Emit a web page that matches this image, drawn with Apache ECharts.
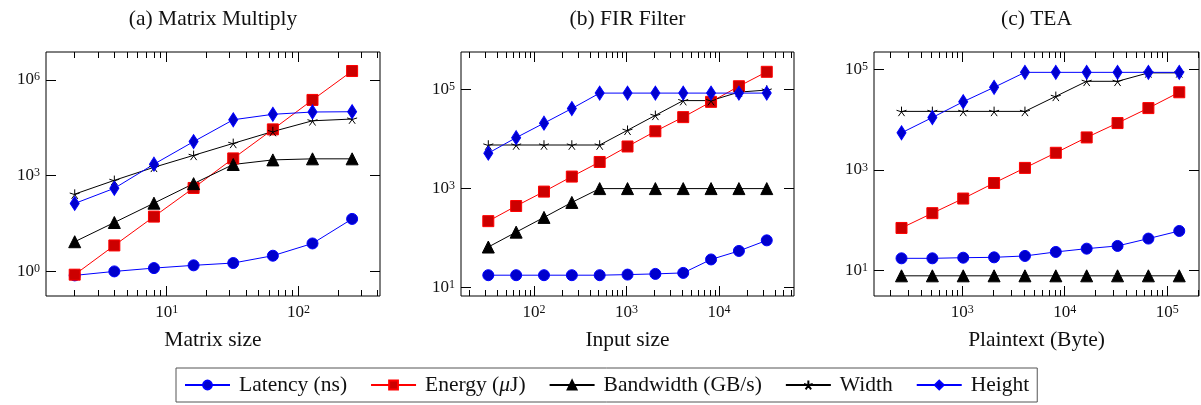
<!DOCTYPE html>
<html><head><meta charset="utf-8">
<script src="https://cdn.jsdelivr.net/npm/echarts@6/dist/echarts.min.js"></script>
<style>html,body{margin:0;padding:0;background:#fff}#c{width:1201px;height:405px}</style>
</head><body><div id="c"></div>
<script>
// ---------- data ----------
const seriesNames = ['Latency (ns)', 'Energy (μJ)', 'Bandwidth (GB/s)', 'Width', 'Height'];
const panelTitles = ['(a) Matrix Multiply', '(b) FIR Filter', '(c) TEA'];
const xAxisNames = ['Matrix size', 'Input size', 'Plaintext (Byte)'];

const mmSize = [2, 4, 8, 16, 32, 64, 128, 256];
const mmLatency = [0.75, 1.0, 1.27, 1.55, 1.83, 3.1, 7.5, 44];
const mmEnergy = [0.79, 6.5, 52, 410, 3450, 28000, 234000, 1880000];
const mmBandwidth = [8.5, 34, 137, 560, 2230, 3100, 3350, 3350];
const mmWidth = [263, 710, 1820, 4300, 10200, 24000, 52000, 59000];
const mmHeight = [134, 400, 2280, 11600, 56000, 83000, 98000, 100000];

const firSize = [32, 64, 128, 256, 512, 1024, 2048, 4096, 8192, 16384, 32768];
const firLatency = [17.8, 17.8, 17.8, 17.8, 17.8, 18.3, 18.9, 19.8, 37, 55, 90];
const firEnergy = [220, 445, 870, 1750, 3450, 7100, 14400, 27800, 56600, 117000, 229000];
const firBandwidth = [66, 132, 262, 526, 1000, 1000, 1000, 1000, 1000, 1000, 1000];
const firWidth = [7600, 7600, 7600, 7600, 7600, 15100, 30200, 60000, 60000, 89000, 98000];
const firHeight = [5200, 10700, 21000, 41500, 85000, 85000, 85000, 85000, 85000, 85000, 85000];

const teaSize = [256, 512, 1024, 2048, 4096, 8192, 16384, 32768, 65536, 131072];
const teaLatency = [17.4, 17.4, 17.9, 18.2, 19.4, 23.3, 27.1, 30.7, 43, 61];
const teaEnergy = [70, 138, 270, 550, 1100, 2200, 4450, 8600, 17100, 35300];
const teaBandwidth = [7.8, 7.8, 7.8, 7.8, 7.8, 7.8, 7.8, 7.8, 7.8, 7.8];
const teaWidth = [14700, 14700, 14700, 14700, 14700, 29300, 58400, 58400, 86000, 86000];
const teaHeight = [5500, 11100, 22900, 44300, 88000, 88000, 88000, 88000, 88000, 88000];

// tick labels (powers of ten, as exponents)
const xTickExps = [[1, 2], [2, 3, 4], [3, 4, 5]];
const yTickExps = [[0, 3, 6], [1, 3, 5], [1, 3, 5]];

// ---------- layout / style ----------
const panels = [
  { xs: mmSize, ys: [mmLatency, mmEnergy, mmBandwidth, mmWidth, mmHeight],
    grid: { left: 46, top: 52, width: 334, height: 244 }, xr: [0.083, 2.62], yr: [-0.77, 6.87] },
  { xs: firSize, ys: [firLatency, firEnergy, firBandwidth, firWidth, firHeight],
    grid: { left: 461, top: 52, width: 333, height: 244 }, xr: [1.21, 4.81], yr: [0.83, 5.76] },
  { xs: teaSize, ys: [teaLatency, teaEnergy, teaBandwidth, teaWidth, teaHeight],
    grid: { left: 874, top: 52, width: 325, height: 244 }, xr: [2.14, 5.31], yr: [0.49, 5.35] }
];

const FONT = 'Liberation Serif';
const BIG = 21.5;
const starPath = 'path://M100 100L100 0M100 100L195 69M100 100L159 181M100 100L41 181M100 100L5 69';
const styles = [
  { symbol: 'circle', symbolSize: 11, fill: '#0000cc', stroke: '#0000ff', line: '#0000ff' },
  { symbol: 'rect', symbolSize: 11, fill: '#cc0000', stroke: '#ff0000', line: '#ff0000' },
  { symbol: 'triangle', symbolSize: 12, fill: '#000000', stroke: '#000000', line: '#000000' },
  { symbol: starPath, symbolSize: 10, fill: 'rgba(0,0,0,0)', stroke: '#000000', line: '#000000' },
  { symbol: 'diamond', symbolSize: [9, 14], fill: '#0000cc', stroke: '#0000ff', line: '#0000ff' }
];

function minorTicks(r) {
  const out = [];
  for (let k = Math.floor(r[0]); k <= Math.ceil(r[1]); k++) {
    for (let m = 2; m <= 9; m++) {
      const e = k + Math.log10(m);
      if (e > r[0] && e < r[1]) out.push(e);
    }
  }
  return out;
}

const powLabel = v => '{b|10}{s|' + Math.round(v) + '}';
const richPow = {
  b: { fontFamily: FONT, fontSize: 17, color: '#111', lineHeight: 17, verticalAlign: 'bottom' },
  s: { fontFamily: FONT, fontSize: 12, color: '#111', lineHeight: 12, padding: [0, 0, 7.5, 0], verticalAlign: 'top' }
};
const tickLine = { color: '#000', width: 1 };

const grids = [], xAxes = [], yAxes = [], series = [], graphics = [];
panels.forEach((p, pi) => {
  grids.push(Object.assign({ show: true, borderColor: '#000', borderWidth: 1, containLabel: false, outerBoundsMode: 'none' }, p.grid));
  const minor = minorTicks(p.xr);
  const base = { type: 'value', gridIndex: pi, min: p.xr[0], max: p.xr[1], splitLine: { show: false }, axisLine: { show: false, onZero: false } };
  // bottom major
  xAxes.push(Object.assign({}, base, {
    position: 'bottom',
    name: xAxisNames[pi], nameLocation: 'middle', nameGap: 33,
    nameTextStyle: { fontFamily: FONT, fontSize: BIG, color: '#111' },
    axisTick: { show: true, inside: true, length: 10, customValues: xTickExps[pi], lineStyle: tickLine },
    axisLabel: { show: true, margin: 8, customValues: xTickExps[pi], formatter: powLabel, rich: richPow }
  }));
  const mainX = xAxes.length - 1;
  // bottom minor
  xAxes.push(Object.assign({}, base, {
    position: 'bottom',
    axisTick: { show: true, inside: true, length: 6, customValues: minor, lineStyle: tickLine },
    axisLabel: { show: false }
  }));
  // top major
  xAxes.push(Object.assign({}, base, {
    position: 'top',
    axisTick: { show: true, inside: true, length: 10, customValues: xTickExps[pi], lineStyle: tickLine },
    axisLabel: { show: false }
  }));
  // top minor
  xAxes.push(Object.assign({}, base, {
    position: 'top',
    axisTick: { show: true, inside: true, length: 6, customValues: minor, lineStyle: tickLine },
    axisLabel: { show: false }
  }));
  const ybase = { type: 'value', gridIndex: pi, min: p.yr[0], max: p.yr[1], splitLine: { show: false }, axisLine: { show: false, onZero: false } };
  yAxes.push(Object.assign({}, ybase, {
    position: 'left',
    axisTick: { show: true, inside: true, length: 10, customValues: yTickExps[pi], lineStyle: tickLine },
    axisLabel: { show: true, margin: 6, customValues: yTickExps[pi], formatter: powLabel, rich: richPow }
  }));
  const mainY = yAxes.length - 1;
  yAxes.push(Object.assign({}, ybase, {
    position: 'right',
    axisTick: { show: true, inside: true, length: 10, customValues: yTickExps[pi], lineStyle: tickLine },
    axisLabel: { show: false }
  }));

  p.ys.forEach((vals, si) => {
    const st = styles[si];
    series.push({
      type: 'line', name: seriesNames[si],
      xAxisIndex: mainX, yAxisIndex: mainY,
      data: p.xs.map((x, i) => [Math.log10(x), Math.log10(vals[i])]),
      symbol: st.symbol, symbolSize: st.symbolSize, symbolKeepAspect: true,
      showAllSymbol: true, silent: true, clip: false,
      lineStyle: { color: st.line, width: 1 },
      itemStyle: { color: st.fill, borderColor: st.stroke, borderWidth: 1 },
      emphasis: { disabled: true }
    });
  });

  const cx = p.grid.left + p.grid.width / 2;
  graphics.push({
    type: 'text', x: cx, y: 19.5,
    style: { text: panelTitles[pi], font: BIG + 'px "' + FONT + '"', fill: '#111', align: 'center', verticalAlign: 'middle' }
  });
});

const option = {
  animation: false,
  backgroundColor: '#fff',
  grid: grids,
  xAxis: xAxes,
  yAxis: yAxes,
  series: series,
  graphic: graphics,
  legend: {
    data: seriesNames,
    left: 176, top: 368,
    orient: 'horizontal',
    padding: [6, 8, 6, 8],
    itemWidth: 45, itemHeight: 11, itemGap: 23,
    borderColor: '#555', borderWidth: 1, borderRadius: 0,
    selectedMode: false,
    formatter: name => name === 'Energy (μJ)' ? '{n|Energy (}{i|μ}{n|J)}' : '{n|' + name + '}',
    textStyle: {
      fontFamily: FONT, fontSize: BIG, color: '#111', padding: [0, 0, 0, 4],
      rich: {
        n: { fontFamily: FONT, fontSize: BIG, color: '#111' },
        i: { fontFamily: FONT, fontSize: BIG, color: '#111', fontStyle: 'italic' }
      }
    }
  }
};

const chart = echarts.init(document.getElementById('c'), null, { renderer: 'canvas' });
chart.setOption(option);
</script>
</body></html>
